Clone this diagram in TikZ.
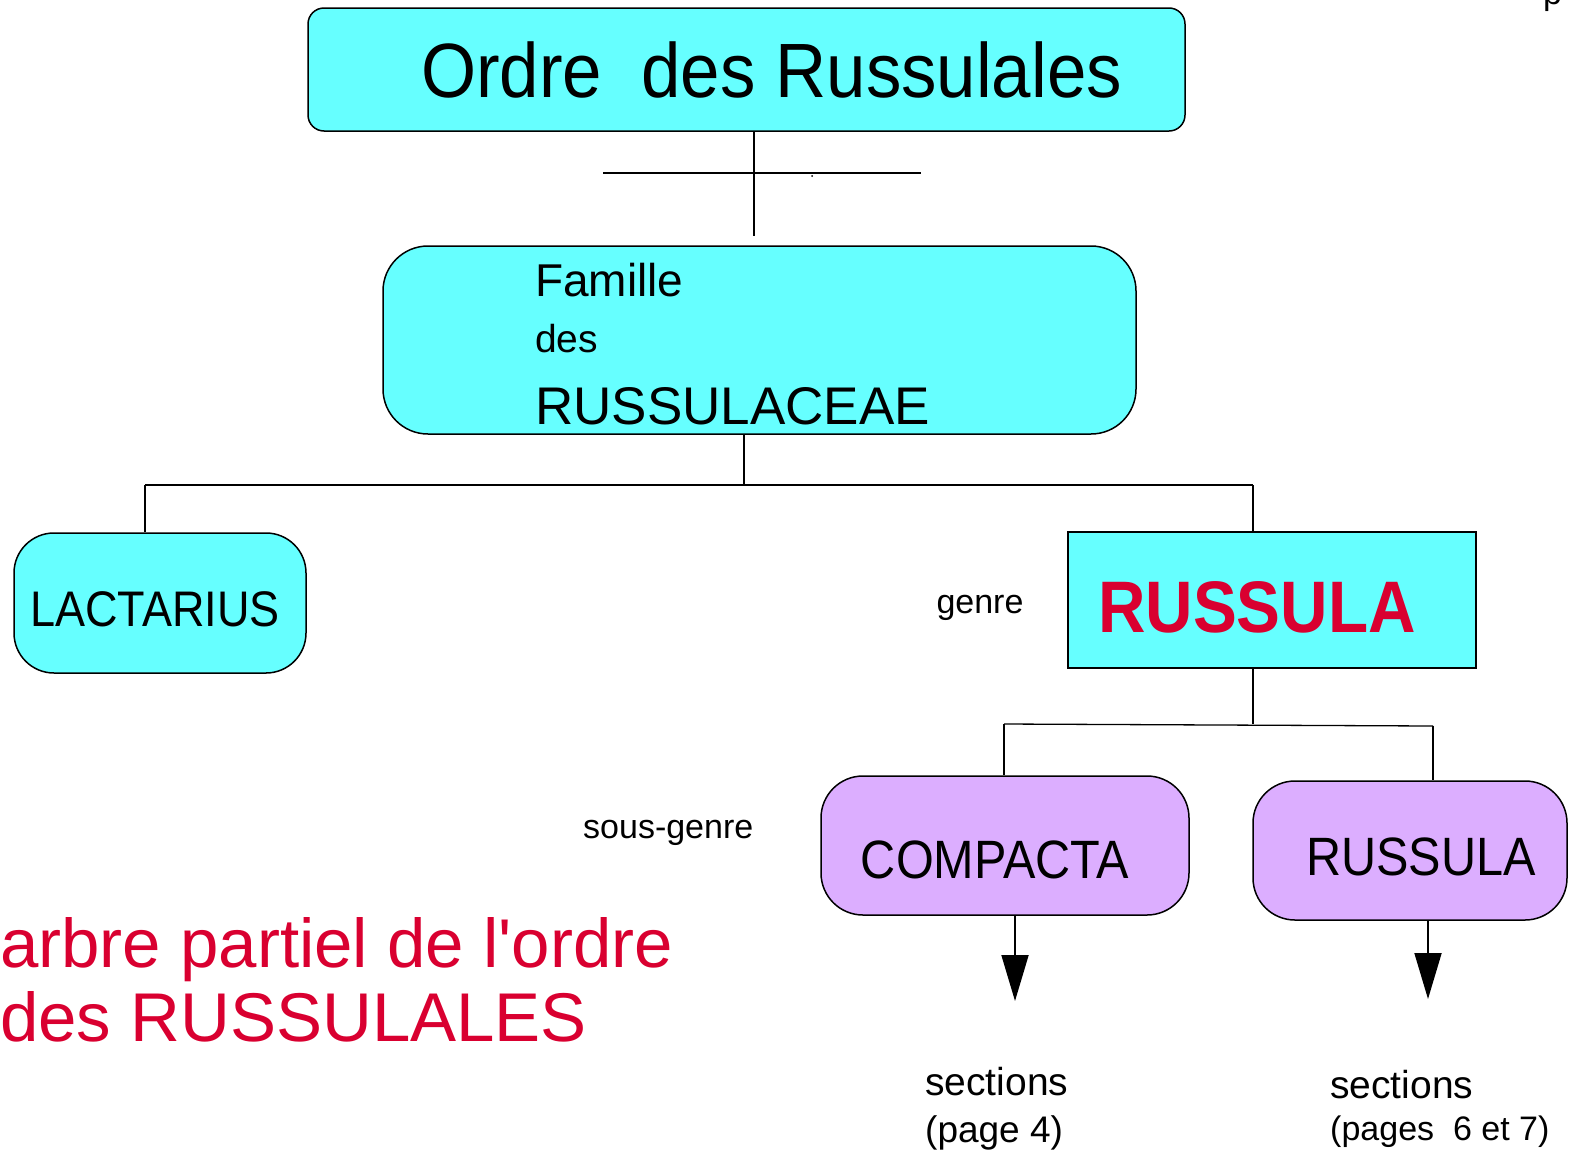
\documentclass[tikz,border=0pt]{standalone}
\usepackage{fontspec}
\setmainfont{Liberation Sans}
\newfontfamily\narrowfont[FakeStretch=0.9]{Liberation Sans}
\newfontfamily\ordrefont[FakeStretch=0.92]{Liberation Sans}
\newfontfamily\titrefont{Liberation Sans}
\usetikzlibrary{arrows.meta}
\definecolor{boxcyan}{RGB}{102,255,255}
\definecolor{boxlilac}{RGB}{220,174,255}
\definecolor{titlered}{RGB}{217,0,48}
\newcommand{\fsz}[1]{\fontsize{#1}{#1}\selectfont}
\tikzset{
  rankbox/.style={draw, line width=1.5pt, inner sep=0pt},
  txt/.style={inner sep=0pt, anchor=base west},
  link/.style={line width=1.3pt},
  down/.style={line width=1.8pt, -{Triangle[length=46pt,width=27pt]}},
}

\begin{document}
\begin{tikzpicture}[x=1pt,y=-1pt]
\useasboundingbox (0,0) rectangle (1576,1165);
%draw boxes
\node[rankbox, fill=boxcyan, rounded corners=16pt, minimum width=877pt, minimum height=123pt] (ordre) at (746.5,69.5) {};
\node[rankbox, fill=boxcyan, rounded corners=45pt, minimum width=753pt, minimum height=188pt] (famille) at (759.5,340) {};
\node[rankbox, fill=boxcyan, rounded corners=40pt, minimum width=292pt, minimum height=140pt] (lactarius) at (160,603) {};
\node[rankbox, fill=boxcyan, minimum width=408pt, minimum height=136pt] (russula) at (1272,600) {};
\node[rankbox, fill=boxlilac, rounded corners=42pt, minimum width=368pt, minimum height=139pt] (compacta) at (1005,845.5) {};
\node[rankbox, fill=boxlilac, rounded corners=42pt, minimum width=314pt, minimum height=139pt] (subrussula) at (1410,850.5) {};
%draw box labels
\node[txt] (ordrelbl) at (421,97) {\ordrefont\fsz{77}Ordre\ \ des Russulales};
\node[txt] (fam1) at (535,296) {\fsz{46}Famille};
\node[txt] (fam2) at (535,352) {\fsz{39}des};
\node[txt] (fam3) at (535,424) {\fsz{53}RUSSULACEAE};
\node[txt, anchor=base] (lactlbl) at (155,626) {\narrowfont\fsz{50}LACTARIUS};
\node[txt, anchor=base, text=titlered] (russlbl) at (1257,632) {\narrowfont\bfseries\fsz{73}RUSSULA};
\node[txt, anchor=base] (complbl) at (995,878) {\narrowfont\fsz{54}COMPACTA};
\node[txt, anchor=base] (sublbl) at (1421,875) {\narrowfont\fsz{54}RUSSULA};
%draw rank labels
\node[txt, anchor=base] (genre) at (980,613) {\fsz{34}genre};
\node[txt] (sousgenre) at (583,838) {\fsz{34}sous-genre};
%
%order to family
\coordinate (famtop) at (754,236);
\coordinate (crossL) at (603,173);
\coordinate (crossR) at (921,173);
\draw[link] (ordre.south -| famtop) -- (famtop);
\draw[link] (crossL) -- (crossR);
\fill (812,176) circle (1pt);
%family to genera
\coordinate (famfork) at (744,485);
\coordinate (lactfork) at (145,485);
\coordinate (russfork) at (1253,485);
\draw[link] (famille.south -| famfork) -- (famfork);
\draw[link] (lactfork) -- (russfork);
\draw[link] (lactfork) -- (lactfork |- lactarius.north);
\draw[link] (russfork) -- (russfork |- russula.north);
%genre to sub-genera
\coordinate (russsplit) at (1253,724);
\coordinate (compfork) at (1004,724);
\coordinate (subfork) at (1433,726);
\draw[link] (russula.south -| russsplit) -- (russsplit);
\draw[link] (compfork) -- (subfork);
\draw[link] (compfork) -- (compfork |- compacta.north);
\draw[link] (subfork) -- (subfork |- subrussula.north);
%sub-genera to sections
\coordinate (comptip) at (1015,1001);
\coordinate (subtip) at (1428,999);
\draw[down] (compacta.south -| comptip) -- (comptip);
\draw[down] (subrussula.south -| subtip) -- (subtip);
\node[txt] (compsec) at (925,1095) {\fsz{39}sections};
\node[txt] (comppage) at (925,1142) {\fsz{37}(page 4)};
\node[txt] (subsec) at (1330,1098) {\fsz{39}sections};
\node[txt] (subpage) at (1330,1140) {\fsz{34}(pages\ \ 6 et 7)};
%
\node[txt, text=titlered] (titre1) at (0,967) {\titrefont\fsz{69}arbre partiel de l'ordre};
\node[txt, text=titlered] (titre2) at (0,1041) {\titrefont\fsz{69}des RUSSULALES};
\node[txt] (coin) at (1543,4) {\fsz{34}p};
\end{tikzpicture}
\end{document}
